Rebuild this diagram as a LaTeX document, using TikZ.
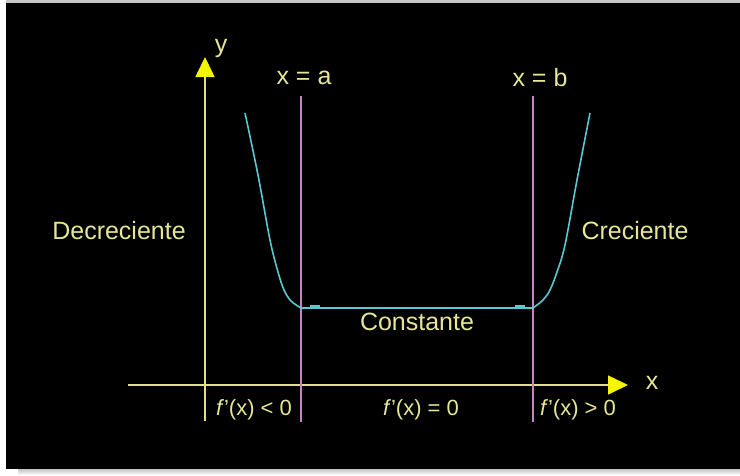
\documentclass[tikz,border=0pt]{standalone}
\usepackage{fontspec}
\setmainfont{Liberation Sans}
\usepackage{tikz}
\usetikzlibrary{arrows.meta,positioning,calc}
\definecolor{AxisYellow}{HTML}{E1E182}
\definecolor{TipYellow}{HTML}{F5F500}
\definecolor{TextYellow}{HTML}{E6E696}
\definecolor{LineViolet}{HTML}{C882C8}
\definecolor{CurveCyan}{HTML}{5AC8D2}
\tikzset{
  axis/.style={draw=AxisYellow,line width=1.6pt,
               -{Triangle[length=20pt,width=19pt,color=TipYellow]}},
  bound/.style={draw=LineViolet,line width=1.6pt},
  curve/.style={draw=CurveCyan,line width=1.6pt,line join=round},
  lbl/.style={text=TextYellow,inner sep=0pt,font=\fontsize{25}{30}\selectfont},
  small/.style={text=TextYellow,inner sep=0pt,font=\fontsize{22}{26}\selectfont}
}

\begin{document}
\begin{tikzpicture}[x=1pt,y=-1pt]
  \useasboundingbox (0,0) rectangle (740,475);
  \fill[white] (0,0) rectangle (740,475);
  % frame and shadow
  \shade[top color=gray!70,bottom color=white] (18,466) rectangle (740,475);
  \fill[gray!45] (6,0) rectangle (740,3);
  \fill[black] (6,3) rectangle (740,469);

  % reference points
  \coordinate (ybot) at (205,421);
  \coordinate (ytop) at (205,57);
  \coordinate (xbeg) at (128,385);
  \coordinate (xend) at (628,385);
  \coordinate (atop) at (301,96);
  \coordinate (abot) at (301,422);
  \coordinate (btop) at (533,96);
  \coordinate (bbot) at (533,422);

  \draw[axis] (ybot) -- (ytop);
  \draw[axis] (xbeg) -- (xend);
  \draw[bound] (atop) -- (abot);
  \draw[bound] (btop) -- (bbot);

  % the function
  \draw[curve] plot[smooth,tension=0.55] coordinates
    {(245,113) (258,175) (270,240) (278,272) (284,290) (291,301) (301,308)}
    -- (533,308)
    plot[smooth,tension=0.55] coordinates
    {(533,308) (543,300) (550,290) (557,272) (565,245) (577,180) (590,113)};
  \fill[CurveCyan] (310,305) rectangle (320,308);
  \fill[CurveCyan] (515,305) rectangle (525,308);

  \node[lbl] (ylab) at (221,48) {y};
  \node[lbl] (xlab) at (652,383) {x};
  \node[lbl] (alab) at (304,78) {x = a};
  \node[lbl] (blab) at (540,78) {x = b};
  \node[lbl] (decr) at (119,231) {Decreciente};
  \node[lbl] (crec) at (635,231) {Creciente};
  \node[lbl] (cons) at (417,322) {Constante};
  \node[small] (fneg) at (254,410) {\textit{f}'(x) < 0};
  \node[small] (fzer) at (421,410) {\textit{f}'(x) = 0};
  \node[small] (fpos) at (578,410) {\textit{f}'(x) > 0};
\end{tikzpicture}
\end{document}
